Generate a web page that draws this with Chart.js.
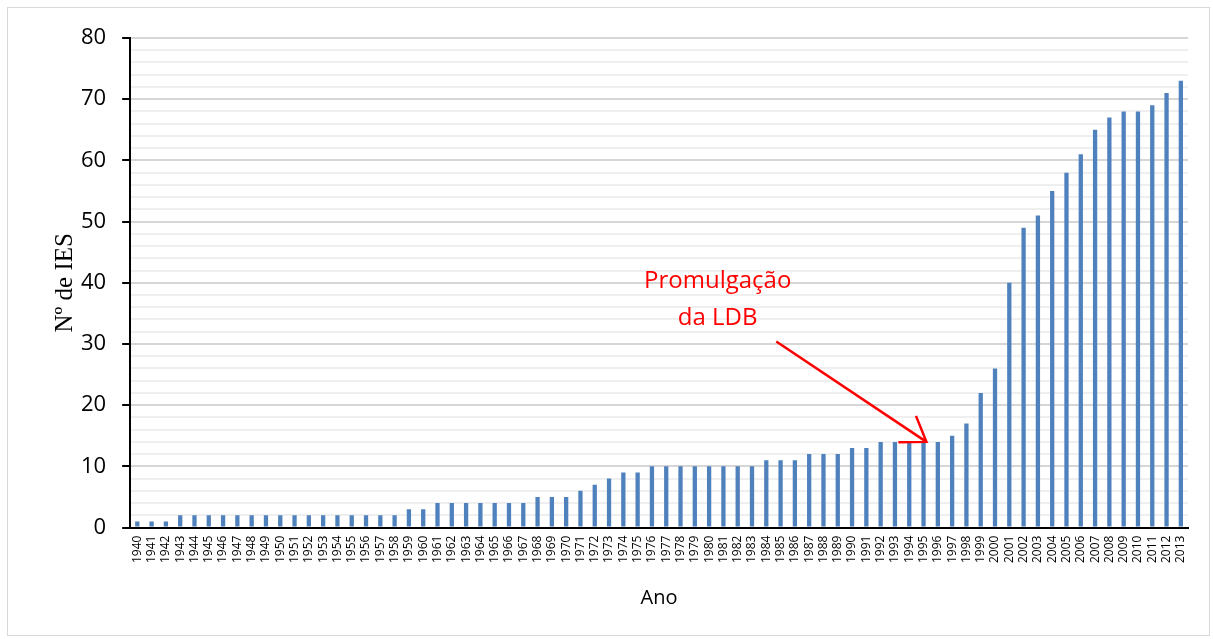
<!DOCTYPE html>
<html lang="en">
<head>
  <meta charset="UTF-8" />
  <title>Nº de IES por ano</title>
  <script src="https://cdn.jsdelivr.net/npm/chart.js"></script>
  <style>
    * { margin: 0; padding: 0; box-sizing: border-box; }
    body { background: #fff; width: 1213px; height: 639px; overflow: hidden; position: relative; }
    .frame {
      position: absolute; left: 7px; top: 7px; width: 1203px; height: 629px;
      border: 1px solid #d9d9d9;
    }
    canvas { position: absolute; left: 0; top: 0; }
  </style>
</head>
<body>
  <div class="frame"></div>
  <canvas id="chart" width="1213" height="639"></canvas>

  <script>
    const years = [];
    for (let y = 1940; y <= 2013; y++) years.push(String(y));

    const ies = [
      1, 1, 1, 2, 2, 2, 2, 2, 2, 2,        // 1940-1949
      2, 2, 2, 2, 2, 2, 2, 2, 2, 3,        // 1950-1959
      3, 4, 4, 4, 4, 4, 4, 4, 5, 5,        // 1960-1969
      5, 6, 7, 8, 9, 9, 10, 10, 10, 10,    // 1970-1979
      10, 10, 10, 10, 11, 11, 11, 12, 12, 12, // 1980-1989
      13, 13, 14, 14, 14, 14, 14, 15, 17, 22, // 1990-1999
      26, 40, 49, 51, 55, 58, 61, 65, 67, 68, // 2000-2009
      68, 69, 71, 73                        // 2010-2013
    ];

    const noteLines = ['Promulgação', 'da LDB'];

    // annotation: text + arrow placed in data units (category index, value)
    const annotationPlugin = {
      id: 'ldbNote',
      afterDatasetsDraw(chart) {
        const { ctx, scales: { x, y } } = chart;
        const px = i => x.getPixelForValue(0) + i * (x.getPixelForValue(1) - x.getPixelForValue(0));
        ctx.save();
        ctx.fillStyle = '#ff0000';
        ctx.font = '24px "Open Sans", sans-serif';
        ctx.textAlign = 'center';
        ctx.textBaseline = 'middle';
        ctx.fillText(noteLines[0], px(40.6), y.getPixelForValue(40.3));
        ctx.fillText(noteLines[1], px(40.6), y.getPixelForValue(34.3));

        const x0 = px(44.7), y0 = y.getPixelForValue(30.4);
        const x1 = px(55.2), y1 = y.getPixelForValue(14.0);
        ctx.strokeStyle = '#ff0000';
        ctx.lineWidth = 2.5;
        ctx.beginPath();
        ctx.moveTo(x0, y0);
        ctx.lineTo(x1, y1);
        const ang = Math.atan2(y1 - y0, x1 - x0);
        const len = 28, spread = 0.6;
        ctx.moveTo(x1 - len * Math.cos(ang - spread), y1 - len * Math.sin(ang - spread));
        ctx.lineTo(x1, y1);
        ctx.lineTo(x1 - len * Math.cos(ang + spread), y1 - len * Math.sin(ang + spread));
        ctx.stroke();
        ctx.restore();
      }
    };

    new Chart(document.getElementById('chart'), {
      type: 'bar',
      data: {
        labels: years,
        datasets: [{
          data: ies,
          backgroundColor: '#4f81bd',
          barPercentage: 0.3,
          categoryPercentage: 1.0
        }]
      },
      options: {
        responsive: false,
        animation: false,
        layout: { padding: { left: 50, right: 25, top: 38, bottom: 25 } },
        plugins: { legend: { display: false }, tooltip: { enabled: false } },
        scales: {
          x: {
            grid: { display: false, tickLength: 0 },
            border: { color: '#000', width: 2 },
            ticks: {
              autoSkip: false, minRotation: 90, maxRotation: 90,
              color: '#000', font: { size: 12, family: '"Open Sans", sans-serif' }, padding: 8
            },
            title: {
              display: true, text: 'Ano', color: '#000',
              font: { size: 20, family: '"Open Sans", sans-serif' }, padding: { top: 15 }
            }
          },
          y: {
            min: 0, max: 80,
            border: { color: '#000', width: 2 },
            grid: {
              color: c => (c.tick && c.tick.value % 10 === 0) ? '#d6d6d6' : '#efefef',
              lineWidth: 2,
              tickColor: c => (c.tick && c.tick.value % 10 === 0) ? '#000' : 'rgba(0,0,0,0)',
              tickLength: 8
            },
            ticks: {
              stepSize: 2,
              autoSkip: false,
              color: '#000',
              padding: 16,
              font: { size: 22, family: '"Open Sans", sans-serif' },
              callback: v => (v % 10 === 0 ? v : '')
            },
            title: {
              display: true, text: 'Nº de IES', color: '#000',
              font: { size: 25, family: '"Liberation Serif", serif' }, padding: { top: 0, bottom: -15 }
            }
          }
        }
      },
      plugins: [annotationPlugin]
    });
  </script>
</body>
</html>
